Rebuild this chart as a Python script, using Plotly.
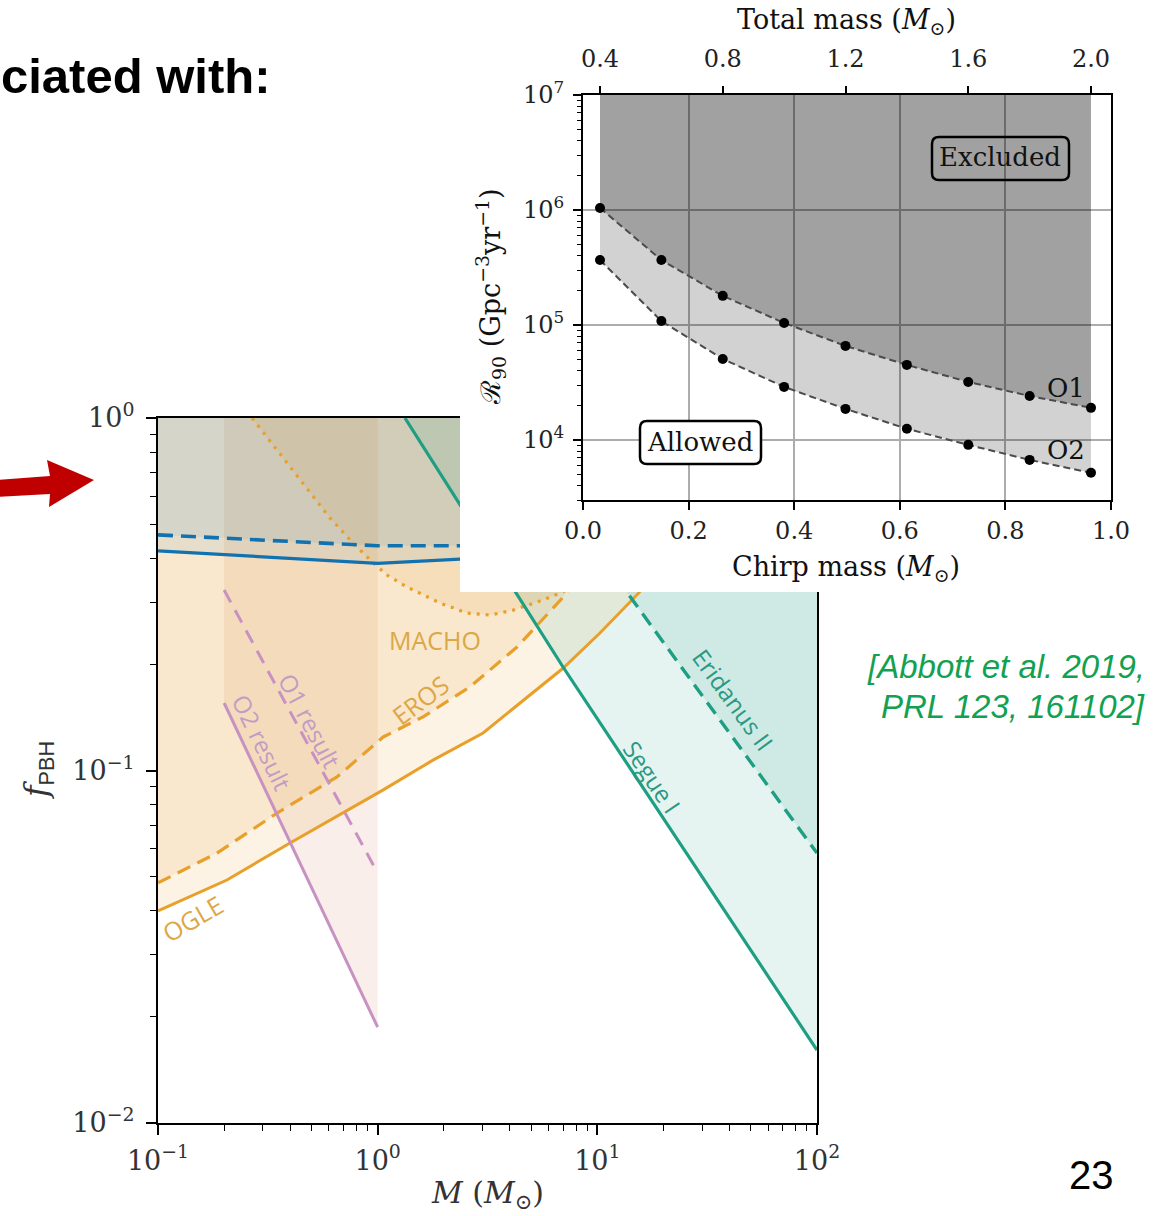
import math
import plotly.graph_objects as go

W, H = 1153, 1216

# ---------------- main panel: constraints on f_PBH versus M ----------------
ogle_m = [0.1, 0.206, 0.399, 0.695, 1.06, 1.786, 3.02, 6.98, 10.28, 15.6, 25.0, 35.0]
ogle_f = [0.0400, 0.0489, 0.0623, 0.0757, 0.0881, 0.107, 0.1278, 0.195, 0.2455, 0.321, 0.55, 1.0]

eros_m = [0.1, 0.1856, 0.348, 0.653, 1.06, 1.61, 2.63, 4.31, 6.98, 12.0, 20.0]
eros_f = [0.048, 0.0583, 0.0757, 0.0959, 0.1245, 0.142, 0.1726, 0.224, 0.31, 0.5, 1.0]

macho_m = [0.268, 0.348, 0.452, 0.607, 0.772, 0.923, 1.103, 1.36, 1.921, 2.55,
           3.25, 4.13, 5.66, 6.98, 10.0, 18.0, 30.0]
macho_f = [1.0, 0.811, 0.658, 0.520, 0.442, 0.396, 0.3585, 0.3316, 0.2987, 0.2798,
           0.276, 0.285, 0.3046, 0.321, 0.38, 0.6, 1.0]

blue_solid_m = [0.1, 1.0, 2.37, 3.0]
blue_solid_f = [0.420, 0.387, 0.398, 0.400]
blue_dash_m = [0.1, 1.0, 3.0]
blue_dash_f = [0.466, 0.434, 0.434]

o1_m = [0.2, 1.0]
o1_f = [0.325, 0.0512]
o2_m = [0.2, 1.0]
o2_f = [0.1554, 0.0187]

segue_m = [1.331, 6.98, 100.0]
segue_f = [1.0, 0.1966, 0.0161]
eri_m = [3.6, 13.65, 100.0]
eri_f = [1.0, 0.321, 0.0583]

main_x_ticks = [0.1, 1, 10, 100]
main_x_text = ["10<sup>−1</sup>", "10<sup>0</sup>", "10<sup>1</sup>", "10<sup>2</sup>"]
main_y_ticks = [0.01, 0.1, 1]
main_y_text = ["10<sup>−2</sup>", "10<sup>−1</sup>", "10<sup>0</sup>"]

# ---------------- inset: 90% rate upper limits ----------------
total_mass = [0.4, 0.6, 0.8, 1.0, 1.2, 1.4, 1.6, 1.8, 2.0]
r90_o1 = [1.04e6, 3.67e5, 1.79e5, 1.04e5, 6.57e4, 4.49e4, 3.19e4, 2.41e4, 1.90e4]
r90_o2 = [3.67e5, 1.08e5, 5.06e4, 2.89e4, 1.86e4, 1.25e4, 9.05e3, 6.7e3, 5.17e3]

chirp_ticks = [0.0, 0.2, 0.4, 0.6, 0.8, 1.0]
chirp_text = ["0.0", "0.2", "0.4", "0.6", "0.8", "1.0"]
total_ticks = [0.4, 0.8, 1.2, 1.6, 2.0]
total_text = ["0.4", "0.8", "1.2", "1.6", "2.0"]
rate_ticks = [1e4, 1e5, 1e6, 1e7]
rate_text = ["10<sup>4</sup>", "10<sup>5</sup>", "10<sup>6</sup>", "10<sup>7</sup>"]

ORANGE = "#E8A02A"
BLUE = "#1272B0"
TEAL = "#1E9E83"
PINK = "#C792C2"
SERIF = "DejaVu Serif"
SANS = "Open Sans"


def px(x):
    return x / W


def py(y):
    return 1 - y / H


def above(m, f):
    """Polygon enclosing the region above a curve up to f = 1."""
    return m + [m[-1], m[0]], f + [1.0, 1.0]


fig = go.Figure()


def add_fill(m, f, color):
    xs, ys = above(m, f)
    fig.add_trace(go.Scatter(x=xs, y=ys, mode="lines", fill="toself", fillcolor=color,
                             line=dict(width=0), hoverinfo="skip", showlegend=False,
                             xaxis="x", yaxis="y"))


def add_line(m, f, color, width, dash="solid"):
    fig.add_trace(go.Scatter(x=m, y=f, mode="lines", line=dict(color=color, width=width, dash=dash),
                             hoverinfo="skip", showlegend=False, xaxis="x", yaxis="y"))


# shaded exclusion regions
add_fill(o2_m, o2_f, "rgba(205,120,85,0.13)")
add_fill(ogle_m, ogle_f, "rgba(232,160,42,0.12)")
add_fill(eros_m, eros_f, "rgba(232,160,42,0.12)")
add_fill(macho_m, macho_f, "rgba(232,160,42,0.12)")
add_fill(blue_solid_m, blue_solid_f, "rgba(18,114,176,0.08)")
add_fill(blue_dash_m, blue_dash_f, "rgba(18,114,176,0.08)")
add_fill(segue_m, segue_f, "rgba(30,158,131,0.11)")
add_fill(eri_m, eri_f, "rgba(30,158,131,0.11)")

# boundary curves
add_line(ogle_m, ogle_f, ORANGE, 3)
add_line(eros_m, eros_f, ORANGE, 3.2, "14px,8px")
add_line(macho_m, macho_f, ORANGE, 3.2, "3px,6px")
add_line(blue_solid_m, blue_solid_f, BLUE, 3.2)
add_line(blue_dash_m, blue_dash_f, BLUE, 3.6, "15px,8px")
add_line(o2_m, o2_f, PINK, 3)
add_line(o1_m, o1_f, PINK, 3, "14px,9px")
add_line(segue_m, segue_f, TEAL, 3.2)
add_line(eri_m, eri_f, TEAL, 3.4, "14px,8px")

# white panel underneath the inset
fig.add_trace(go.Scatter(x=[0, 1, 1, 0, 0], y=[0, 0, 1, 1, 0], mode="lines", fill="toself",
                         fillcolor="white", line=dict(width=0), hoverinfo="skip",
                         showlegend=False, xaxis="x2", yaxis="y2"))

# inset: keeps the chirp-mass axis in use
fig.add_trace(go.Scatter(x=[0, 1], y=[1e5, 1e5], mode="markers", marker=dict(opacity=0),
                         hoverinfo="skip", showlegend=False, xaxis="x3", yaxis="y3"))

# inset shaded regions
fig.add_trace(go.Scatter(x=total_mass + total_mass[::-1], y=r90_o2 + r90_o1[::-1],
                         mode="lines", fill="toself", fillcolor="rgba(0,0,0,0.175)",
                         line=dict(width=0), hoverinfo="skip", showlegend=False,
                         xaxis="x4", yaxis="y3"))
fig.add_trace(go.Scatter(x=total_mass + [total_mass[-1], total_mass[0]], y=r90_o1 + [1e7, 1e7],
                         mode="lines", fill="toself", fillcolor="rgba(0,0,0,0.37)",
                         line=dict(width=0), hoverinfo="skip", showlegend=False,
                         xaxis="x4", yaxis="y3"))
for rate in (r90_o1, r90_o2):
    fig.add_trace(go.Scatter(x=total_mass, y=rate, mode="lines+markers",
                             line=dict(color="rgb(75,75,75)", width=2, dash="7px,4px"),
                             marker=dict(color="black", size=10),
                             hoverinfo="skip", showlegend=False, xaxis="x4", yaxis="y3"))

minor_main = [k * 10 ** d for d in (-2, -1, 0, 1) for k in range(2, 10)]
minor_rate = [k * 10 ** d for d in (3, 4, 5, 6) for k in range(2, 10)]

axis_common = dict(showline=True, linecolor="black", mirror=True, ticks="outside",
                   tickcolor="black", showgrid=False, zeroline=False, automargin=False)
main_tick_font = dict(family=SERIF, size=27, color="#333")
inset_tick_font = dict(family=SERIF, size=24, color="#222")

fig.update_layout(
    width=W, height=H, margin=dict(l=0, r=0, t=0, b=0, pad=0, autoexpand=False),
    paper_bgcolor="white", plot_bgcolor="white", showlegend=False,
    xaxis=dict(domain=[px(158), px(817)], anchor="y", type="log", range=[-1, 2],
               tickvals=main_x_ticks, ticktext=main_x_text, ticklen=10, tickwidth=1.6,
               linewidth=2.2, tickfont=main_tick_font, ticklabelstandoff=2,
               minor=dict(ticks="outside", ticklen=6, tickwidth=1.4, tickcolor="black",
                          tickvals=minor_main, showgrid=False),
               **axis_common),
    yaxis=dict(domain=[py(1123), py(418)], anchor="x", type="log", range=[-2, 0],
               tickvals=main_y_ticks, ticktext=main_y_text, ticklen=10, tickwidth=1.6,
               linewidth=2.2, tickfont=main_tick_font, ticklabelstandoff=6,
               minor=dict(ticks="outside", ticklen=6, tickwidth=1.4, tickcolor="black",
                          tickvals=minor_main, showgrid=False),
               **axis_common),
    xaxis2=dict(domain=[px(460), 1.0], anchor="y2", range=[0, 1], visible=False,
                automargin=False),
    yaxis2=dict(domain=[py(592), 1.0], anchor="x2", range=[0, 1], visible=False,
                automargin=False),
    xaxis3=dict(domain=[px(583), px(1111)], anchor="y3", range=[0, 1],
                tickvals=chirp_ticks, ticktext=chirp_text, ticklen=8, tickwidth=1.5,
                linewidth=1.8, tickfont=inset_tick_font,
                showline=True, linecolor="black", mirror=True, ticks="outside",
                tickcolor="black", showgrid=True, gridcolor="rgb(172,172,172)",
                gridwidth=1.6, zeroline=False, automargin=False),
    yaxis3=dict(domain=[py(500), py(95)], anchor="x3", type="log",
                range=[math.log10(3000), 7],
                tickvals=rate_ticks, ticktext=rate_text, ticklen=8, tickwidth=1.5,
                linewidth=1.8, tickfont=inset_tick_font, ticklabelstandoff=4,
                showline=True, linecolor="black", mirror=True, ticks="outside",
                tickcolor="black", showgrid=True, gridcolor="rgb(172,172,172)",
                gridwidth=1.6, zeroline=False, automargin=False,
                minor=dict(ticks="outside", ticklen=4, tickwidth=1.2, tickcolor="black",
                           tickvals=minor_rate, showgrid=False)),
    xaxis4=dict(overlaying="x3", anchor="y3", side="top", range=[0.3446, 2.0652],
                tickvals=total_ticks, ticktext=total_text, ticks="outside", ticklen=8,
                tickwidth=1.5, tickcolor="black", showline=False, showgrid=False,
                zeroline=False, automargin=False, tickfont=inset_tick_font,
                ticklabelstandoff=9),
)

ann = []


def label(x, y, text, color, size, angle=0, ref=("x", "y"), family=SANS,
          xanchor="center", yanchor="middle"):
    ann.append(dict(x=x, y=y, xref=ref[0], yref=ref[1], text=text, showarrow=False,
                    textangle=angle, xanchor=xanchor, yanchor=yanchor,
                    font=dict(family=family, size=size, color=color)))


L10 = math.log10
PAPER = ("paper", "paper")
# curve labels on the main panel
label(L10(1.824), L10(0.2345), "MACHO", "#DCA746", 25)
label(L10(1.558), L10(0.1585), "EROS", "#DCA746", 25, -37)
label(L10(0.1443), L10(0.0382), "OGLE", "#DCA746", 25, -30)
label(L10(0.492), L10(0.139), "O1 result", "#C39CC3", 24, 62)
label(L10(0.2974), L10(0.1197), "O2 result", "#C39CC3", 24, 64)
label(L10(41.45), L10(0.1585), "Eridanus II", "#2A9883", 24, 54)
label(L10(17.92), L10(0.0958), "Segue I", "#2A9883", 24, 56)

# axis titles of the main panel
label(px(487), py(1194), "<i>M</i> (<i>M</i><sub>⊙</sub>)", "#333", 30, ref=PAPER, family=SERIF)
label(px(38), py(770), "<i>f</i><sub><span style='font-family:Liberation Sans'>PBH</span></sub>",
      "#333", 31, -90, ref=PAPER, family=SERIF)

# inset texts
label(0.915, L10(2.83e4), "O1", "#111", 26, ref=("x3", "y3"), family=SERIF)
label(0.915, L10(8.2e3), "O2", "#111", 26, ref=("x3", "y3"), family=SERIF)
label(0.790, 6.461, "Excluded", "#111", 26, ref=("x3", "y3"), family=SERIF)
label(0.2216, 3.983, "Allowed", "#111", 26, ref=("x3", "y3"), family=SERIF)
label(px(846), py(22), "Total mass (<i>M</i><sub>⊙</sub>)", "#111", 27, ref=PAPER, family=SERIF)
label(px(846), py(568), "Chirp mass (<i>M</i><sub>⊙</sub>)", "#111", 27, ref=PAPER, family=SERIF)
label(px(490), py(297), "ℛ<sub>90</sub> (Gpc<sup>−3</sup>yr<sup>−1</sup>)", "#111", 27, -90,
      ref=PAPER, family=SERIF)

# slide texts
label(px(273), py(76), "<b>ciated with:</b>", "black", 49, ref=PAPER,
      family="Liberation Sans", xanchor="right")
label(px(1147), py(666), "<i>[Abbott et al. 2019,</i>", "#12A150", 33, ref=PAPER,
      family="Liberation Sans", xanchor="right")
label(px(1147), py(706), "<i>PRL 123, 161102]</i>", "#12A150", 33, ref=PAPER,
      family="Liberation Sans", xanchor="right")
label(px(1091), py(1175), "23", "black", 40, ref=PAPER, family="Liberation Sans")

fig.update_layout(annotations=ann)


def rounded_box(x0, y0, x1, y1, r):
    pts = [("M", x0 + r, y0), ("L", x1 - r, y0), ("Q", x1, y0, x1, y0 + r), ("L", x1, y1 - r),
           ("Q", x1, y1, x1 - r, y1), ("L", x0 + r, y1), ("Q", x0, y1, x0, y1 - r),
           ("L", x0, y0 + r), ("Q", x0, y0, x0 + r, y0)]
    parts = []
    for p in pts:
        coords = p[1:]
        xy = " ".join(f"{px(coords[i]):.5f},{py(coords[i + 1]):.5f}" for i in range(0, len(coords), 2))
        parts.append(f"{p[0]} {xy}")
    return " ".join(parts) + " Z"


def polygon(points):
    return "M " + " L ".join(f"{px(x):.5f},{py(y):.5f}" for x, y in points) + " Z"


shapes = [
    dict(type="path", xref="paper", yref="paper", layer="above",
         path=rounded_box(932, 137, 1069, 180, 7), line=dict(color="black", width=2.5),
         fillcolor="rgba(0,0,0,0)"),
    dict(type="path", xref="paper", yref="paper", layer="above",
         path=rounded_box(640, 421, 761, 464, 7), line=dict(color="black", width=2.5),
         fillcolor="white"),
    dict(type="path", xref="paper", yref="paper", layer="above",
         path=polygon([(-5, 480), (50, 476), (47, 460), (94, 480), (49, 507), (50, 494), (-5, 497)]),
         line=dict(width=0), fillcolor="#C00000"),
]
fig.update_layout(shapes=shapes)

fig.write_html("out.html")
